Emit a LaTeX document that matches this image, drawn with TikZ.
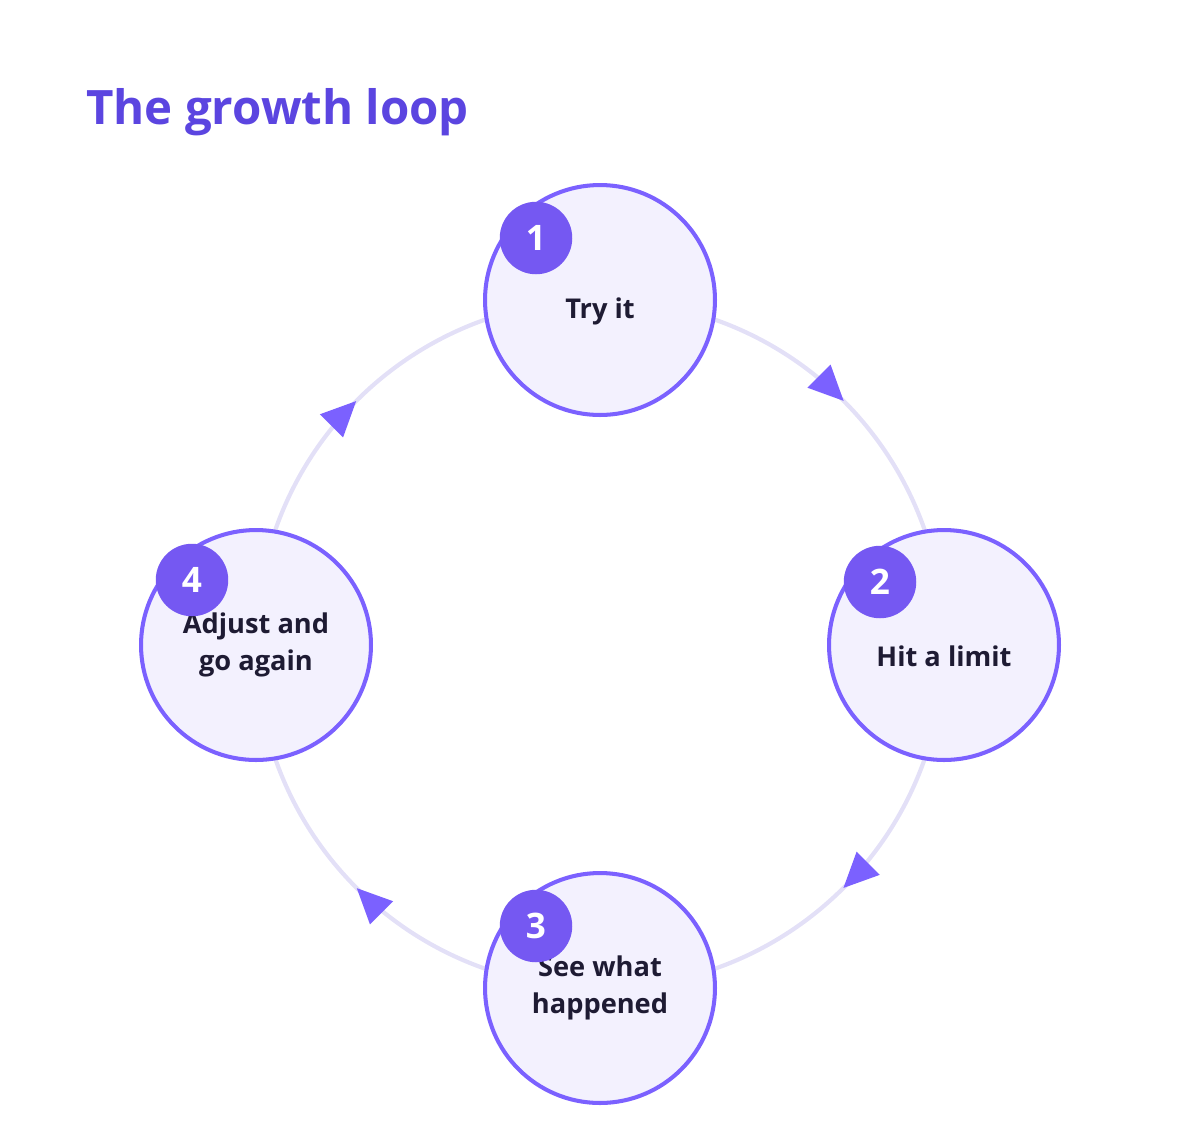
\documentclass[tikz,border=0pt]{standalone}
\usepackage{fontspec}
\setmainfont{Open Sans}
\usetikzlibrary{positioning,arrows.meta,decorations.markings}
\definecolor{ringc}{HTML}{E3E0F7}
\definecolor{stepfill}{HTML}{F3F1FE}
\definecolor{stepline}{HTML}{7B61FF}
\definecolor{badgec}{HTML}{7558F2}
\definecolor{titlec}{HTML}{5B45E0}
\definecolor{textc}{HTML}{1E1B33}
\begin{document}
\begin{tikzpicture}[x=0.02cm, y=-0.02cm,
    stage/.style={circle, draw=stepline, line width=2.3pt, fill=stepfill, minimum size=4.6cm, align=center, text=textc, font=\fontsize{15.5}{21}\selectfont\bfseries},
    badge/.style={circle, fill=badgec, minimum size=1.45cm, inner sep=0pt, text=white, font=\fontsize{20}{20}\selectfont\bfseries},
    ring/.style={draw=ringc, line width=2.4pt, postaction={decorate}, decoration={markings, mark=at position 0.5 with {\arrow[stepline]{Triangle[length=20pt,width=18pt]}}}}]
    \useasboundingbox (0,0) rectangle (1200,1120);

    % Title
    \node[anchor=west, text=titlec, font=\fontsize{27}{30}\selectfont\bfseries] (title) at (80,112) {The growth loop};

    % Loop connectors (drawn below the stages)
    \coordinate (c1) at (600,300);
    \coordinate (c2) at (944,645);
    \coordinate (c3) at (600,988);
    \coordinate (c4) at (256,645);
    \draw[ring] (c1) to[bend left=45] (c2);
    \draw[ring] (c2) to[bend left=45] (c3);
    \draw[ring] (c3) to[bend left=45] (c4);
    \draw[ring] (c4) to[bend left=45] (c1);

    % Stages
    \node[stage] (try) at (c1) {\\[4pt]Try it};
    \node[stage] (hit) at (c2) {\\[4pt]Hit a limit};
    \node[stage] (see) at (c3) {See what\\happened};
    \node[stage] (adjust) at (c4) {Adjust and\\go again};

    % Badges
    \node[badge] (b1) at (536,238) {1};
    \node[badge] (b2) at (880,582) {2};
    \node[badge] (b3) at (536,926) {3};
    \node[badge] (b4) at (192,580) {4};
\end{tikzpicture}
\end{document}
